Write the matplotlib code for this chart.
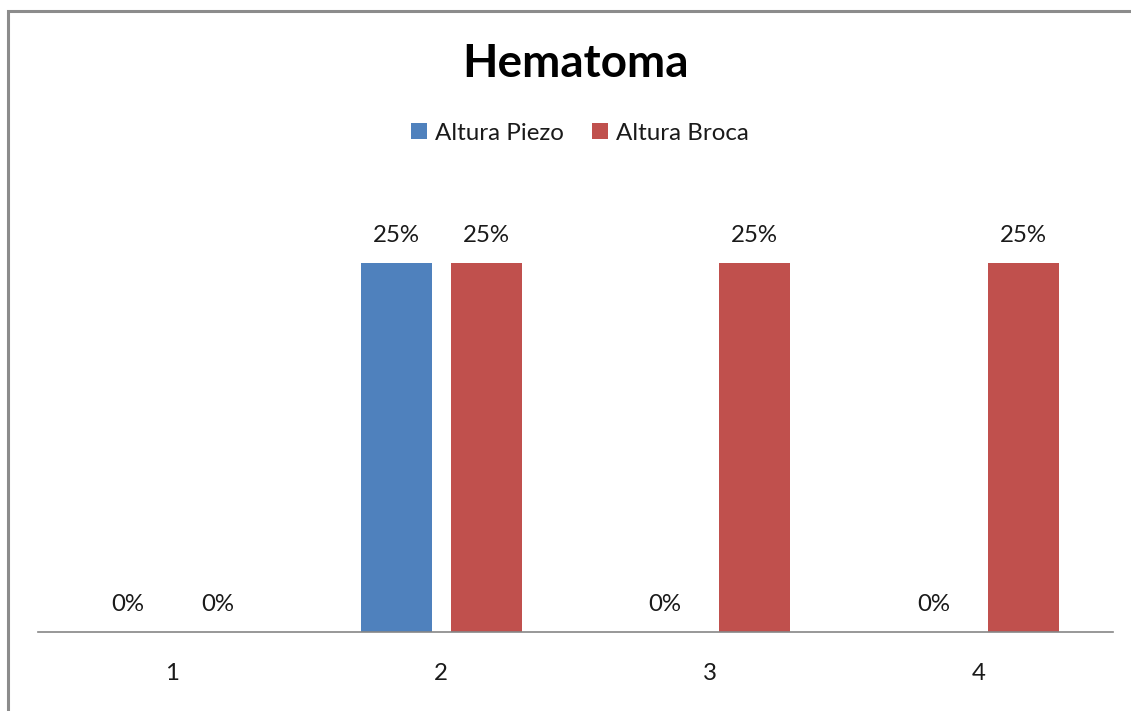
import matplotlib
matplotlib.use("Agg")
import matplotlib.pyplot as plt
import numpy as np
from matplotlib.patches import Rectangle

categories = ["1", "2", "3", "4"]
piezo = [0.0, 0.25, 0.0, 0.0]
broca = [0.0, 0.25, 0.25, 0.25]
series_names = ["Altura Piezo", "Altura Broca"]
colors = ["#4F81BD", "#C0504D"]
title = "Hematoma"

plt.rcParams['font.family'] = ['Lato', 'DejaVu Sans']

W, H = 1131, 711
fig = plt.figure(figsize=(W / 100, H / 100), dpi=100)
fig.patch.set_facecolor("white")

# outer frame
fig.add_artist(Rectangle((8 / W, -0.01), 1.1, (H - 11) / H + 0.01, transform=fig.transFigure,
                         fill=False, edgecolor="#8C8C8C", linewidth=2.2))

ax = fig.add_axes([38 / W, 79 / H, 1075 / W, 442.8 / H])
x = np.arange(len(categories))
bw = 0.264
off = 0.1674
b1 = ax.bar(x - off, piezo, bw, color=colors[0], label=series_names[0])
b2 = ax.bar(x + off, broca, bw, color=colors[1], label=series_names[1])

for bars, vals in ((b1, piezo), (b2, broca)):
    for rect, v in zip(bars, vals):
        ax.annotate(f"{v*100:.0f}%", (rect.get_x() + rect.get_width() / 2, v),
                    xytext=(0, 12), textcoords="offset points",
                    ha="center", va="bottom", fontsize=17.3, color="#1a1a1a")

ax.set_xlim(-0.5, len(categories) - 0.5)
ax.set_ylim(0, 0.30)
ax.set_xticks(x)
ax.set_xticklabels(categories, fontsize=17.3, color="#1a1a1a")
ax.tick_params(axis="x", length=0, pad=22)
ax.set_yticks([])
for s in ["top", "right", "left"]:
    ax.spines[s].set_visible(False)
ax.spines["bottom"].set_color("#868686")
ax.spines["bottom"].set_linewidth(1.2)

fig.text(576 / W, 1 - 64 / H, title, ha="center", va="center",
         fontsize=33, fontweight="bold", color="black")

leg = fig.legend(handles=[b1, b2], labels=series_names, loc="center",
                 bbox_to_anchor=(580 / W, 1 - 133 / H), ncol=2, frameon=False,
                 fontsize=17.4, handlelength=0.65, handleheight=0.65, handletextpad=0.35,
                 columnspacing=1.15)
for t in leg.get_texts():
    t.set_color("#1a1a1a")

fig.savefig("out.png", dpi=100, facecolor="white")
